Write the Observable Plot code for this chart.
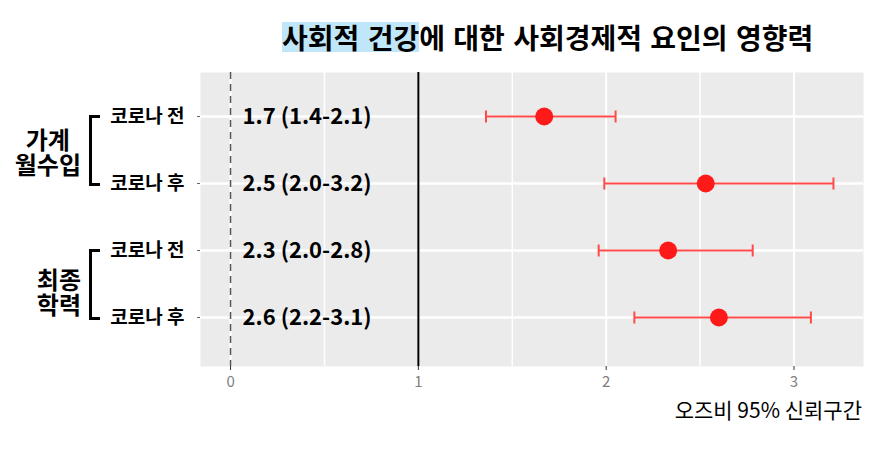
<!DOCTYPE html>
<html><head><meta charset="utf-8">
<script src="https://cdn.jsdelivr.net/npm/d3@7"></script>
<script src="https://cdn.jsdelivr.net/npm/@observablehq/plot@0.6"></script>
<style>
body{margin:0;background:#fff;font-family:"Noto Sans CJK KR","Noto Sans",sans-serif;}
#wrap{position:relative;width:888px;height:453px;overflow:hidden;}
#title{position:absolute;left:282px;top:22px;font-size:28px;font-weight:bold;color:#000;white-space:nowrap;line-height:30px;word-spacing:2px;}
#title .hl{background:#c0e6fa;display:inline-block;height:30px;line-height:30px;}
#caption{position:absolute;right:26px;top:394px;font-size:21px;color:#000;white-space:nowrap;line-height:30px;}
.glabel{position:absolute;font-size:24px;font-weight:bold;line-height:25px;text-align:center;white-space:pre;}
.bracket{position:absolute;border:3px solid #000;border-right:none;box-sizing:border-box;}
</style></head><body><div id="wrap"></div>
<script>
// ---- data ----
const rowKeys = ["inc_pre", "inc_post", "edu_pre", "edu_post"];
const rowLabels = ["코로나 전", "코로나 후", "코로나 전", "코로나 후"];
const estimates = [1.67, 2.53, 2.33, 2.60];
const lowerCI = [1.36, 1.99, 1.96, 2.15];
const upperCI = [2.05, 3.21, 2.78, 3.09];
const valueLabels = ["1.7 (1.4-2.1)", "2.5 (2.0-3.2)", "2.3 (2.0-2.8)", "2.6 (2.2-3.1)"];
const groupLabels = [["가계", "월수입"], ["최종", "학력"]];
const groupRows = [[0, 1], [2, 3]];
const xTicks = [0, 1, 2, 3];
const xMinor = [0.5, 1.5, 2.5];
const titleHighlight = "사회적 건강";
const titleRest = "에 대한 사회경제적 요인의 영향력";
const captionText = "오즈비 95% 신뢰구간";

const data = rowKeys.map((k, i) => ({
  key: k, label: rowLabels[i], est: estimates[i], lo: lowerCI[i], hi: upperCI[i], text: valueLabels[i]
}));
const labelOf = Object.fromEntries(rowKeys.map((k, i) => [k, rowLabels[i]]));
const errColor = "#ff4a4a";
// vertical whisker-cap symbol
const capSymbol = {draw(ctx) { ctx.moveTo(0, -6); ctx.lineTo(0, 6); }};

const plot = Plot.plot({
  width: 888,
  height: 453,
  marginTop: 72,
  marginBottom: 87,
  marginLeft: 200,
  marginRight: 25,
  style: {fontFamily: '"Noto Sans CJK KR", sans-serif', background: "transparent", overflow: "visible"},
  x: {domain: [-0.16, 3.37], label: null},
  y: {type: "point", domain: rowKeys, padding: 0.662, align: 0.478, label: null},
  marks: [
    Plot.frame({fill: "#ebebeb", stroke: null}),
    Plot.ruleX(xMinor, {stroke: "#fff", strokeWidth: 1.5}),
    Plot.ruleX(xTicks, {stroke: "#fff", strokeWidth: 2}),
    Plot.ruleY(data, {y: "key", stroke: "#fff", strokeWidth: 2.5}),
    Plot.ruleX([0], {stroke: "#555", strokeWidth: 1.5, strokeDasharray: "7,5"}),
    Plot.ruleX([1], {stroke: "#000", strokeWidth: 2}),
    Plot.link(data, {x1: "lo", x2: "hi", y1: "key", y2: "key", stroke: errColor, strokeWidth: 2}),
    Plot.dot(data, {x: "lo", y: "key", symbol: capSymbol, r: 6, fill: "none", stroke: errColor, strokeWidth: 2}),
    Plot.dot(data, {x: "hi", y: "key", symbol: capSymbol, r: 6, fill: "none", stroke: errColor, strokeWidth: 2}),
    Plot.dot(data, {x: "est", y: "key", r: 9, fill: "#ff1a1a", stroke: null}),
    Plot.text(data, {x: () => 0, y: "key", text: "text", dx: 12, textAnchor: "start", fontSize: 22, fontWeight: "bold", fill: "#000"}),
    Plot.axisX({ticks: xTicks, tickFormat: d3.format("d"), tickSize: 4, tickPadding: 6, fontSize: 15, fill: "#808080", stroke: "#333", label: null}),
    Plot.axisY({tickSize: 3, tickPadding: 13, fontSize: 19, fontWeight: "bold", fill: "#000", stroke: "#666",
      tickFormat: k => labelOf[k], label: null})
  ]
});

const wrap = document.getElementById("wrap");
wrap.appendChild(plot);

const title = document.createElement("div");
title.id = "title";
const hl = document.createElement("span");
hl.className = "hl";
hl.textContent = titleHighlight;
title.appendChild(hl);
title.appendChild(document.createTextNode(titleRest));
wrap.appendChild(title);

const cap = document.createElement("div");
cap.id = "caption";
cap.textContent = captionText;
wrap.appendChild(cap);

const yScale = plot.scale("y");
groupRows.forEach((rows, gi) => {
  const y1 = yScale.apply(rowKeys[rows[0]]);
  const y2 = yScale.apply(rowKeys[rows[1]]);
  const b = document.createElement("div");
  b.className = "bracket";
  b.style.left = "89px";
  b.style.top = (y1 - 1) + "px";
  b.style.height = (y2 - y1 + 4) + "px";
  b.style.width = "11px";
  wrap.appendChild(b);
  const g = document.createElement("div");
  g.className = "glabel";
  g.textContent = groupLabels[gi].join("\n");
  wrap.appendChild(g);
  const h = g.offsetHeight;
  g.style.right = (888 - 81) + "px";
  g.style.top = ((y1 + y2) / 2 + 1 - h / 2 + (gi === 1 ? 6 : 0)) + "px";
});
</script></body></html>
